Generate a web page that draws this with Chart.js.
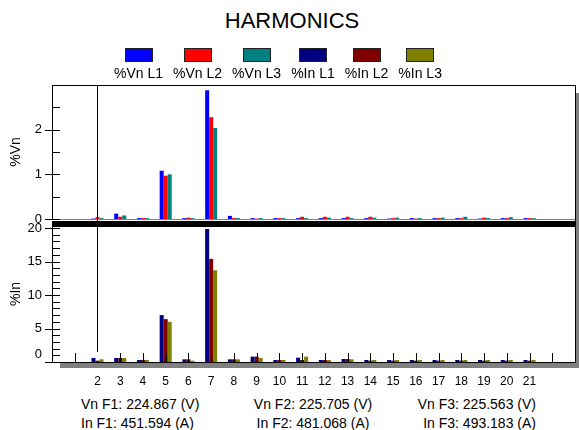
<!DOCTYPE html>
<html>
<head>
<meta charset="utf-8">
<title>Harmonics</title>
<script src="https://cdn.jsdelivr.net/npm/chart.js@4.4.1/dist/chart.umd.min.js"></script>
<style>
  body { margin: 0; background: #fff; font-family: "Liberation Sans", Arial, sans-serif; color: #000; }
  #page { position: relative; width: 579px; height: 430px; overflow: hidden; }
  #title { position: absolute; z-index: 5; left: 0; width: 584px; top: 10px; text-align: center; font-size: 22px; line-height: 22px; }
  #legend { position: absolute; z-index: 5; left: 114px; top: 48px; width: 400px; height: 34px; white-space: nowrap; }
  .box { position: absolute; top: 0; width: 26px; height: 12px; border: 1px solid #222; }
  .lbl { position: absolute; top: 18px; font-size: 14px; line-height: 14px; }
  canvas { position: absolute; left: 0; background: transparent; }
  #upper { top: 80px; z-index: 1; }
  #lower { top: 214px; z-index: 2; }
  #band { position: absolute; z-index: 3; left: 52px; top: 221px; width: 524px; height: 6px; background: #000; }
  .info { position: absolute; z-index: 5; font-size: 14px; line-height: 14px; white-space: nowrap; }
</style>
</head>
<body>
<div id="page">
  <div id="title">HARMONICS</div>
  <div id="legend"></div>
  <canvas id="upper" width="579" height="150"></canvas>
  <div id="band"></div>
  <canvas id="lower" width="579" height="178"></canvas>
  <div class="info" id="c1" style="left:81px; top:397px; text-align:left;"></div>
  <div class="info" id="c2" style="left:213px; width:200px; top:397px; text-align:center;"></div>
  <div class="info" id="c3" style="right:43px; top:397px; text-align:right;"></div>
</div>
<script>
// harmonic order on the x axis (0 and 1, 22 and 23 are empty slots)
const harmonics = ['0', '1', '2', '3', '4', '5', '6', '7', '8', '9', '10', '11',
                   '12', '13', '14', '15', '16', '17', '18', '19', '20', '21', '22', '23'];

// %Vn per phase
const vnL1 = [null, null, 0.01, 0.12, 0.02, 1.08, 0.02, 2.88, 0.07, 0.02, 0.02, 0.02,
              0.02, 0.02, 0.02, 0.01, 0.02, 0.02, 0.02, 0.01, 0.02, 0.02, null, null];
const vnL2 = [null, null, 0.04, 0.05, 0.02, 0.97, 0.03, 2.28, 0.02, 0.01, 0.02, 0.05,
              0.05, 0.05, 0.05, 0.02, 0.01, 0.02, 0.02, 0.03, 0.02, 0.02, null, null];
const vnL3 = [null, null, 0.02, 0.08, 0.02, 1.00, 0.02, 2.04, 0.02, 0.02, 0.02, 0.02,
              0.03, 0.02, 0.03, 0.03, 0.02, 0.03, 0.05, 0.02, 0.04, 0.02, null, null];

// %In per phase
const inL1 = [null, null, 0.6, 0.6, 0.3, 7.0, 0.4, 19.85, 0.4, 0.8, 0.3, 0.65,
              0.3, 0.45, 0.3, 0.3, 0.3, 0.3, 0.3, 0.3, 0.3, 0.3, null, null];
const inL2 = [null, null, 0.2, 0.6, 0.3, 6.4, 0.4, 15.4, 0.4, 0.8, 0.3, 0.3,
              0.3, 0.45, 0.2, 0.2, 0.2, 0.2, 0.2, 0.2, 0.2, 0.2, null, null];
const inL3 = [null, null, 0.4, 0.6, 0.3, 6.0, 0.2, 13.7, 0.4, 0.6, 0.3, 0.8,
              0.3, 0.4, 0.3, 0.3, 0.3, 0.3, 0.3, 0.3, 0.3, 0.3, null, null];

const seriesNames = ['%Vn L1', '%Vn L2', '%Vn L3', '%In L1', '%In L2', '%In L3'];
const seriesColors = ['#0000ff', '#ff0000', '#008080', '#000080', '#800000', '#808000'];

// fundamentals shown under the chart
const vnFund = [224.867, 225.705, 225.563];
const inFund = [451.594, 481.068, 493.183];

const cursorAt = 2;   // harmonic where the cursor line sits

Chart.defaults.font.family = '"Liberation Sans", Arial, sans-serif';
Chart.defaults.color = '#000';

/* legend: box centred above each label, labels 10px apart */
const legend = document.getElementById('legend');
let lx = 0;
seriesNames.forEach(function(name, i) {
    const lbl = document.createElement('div');
    lbl.className = 'lbl';
    lbl.textContent = name;
    legend.appendChild(lbl);
    const w = lbl.getBoundingClientRect().width;
    lbl.style.left = lx + 'px';
    const box = document.createElement('div');
    box.className = 'box';
    box.style.background = seriesColors[i];
    box.style.left = Math.round(lx + w / 2 - 14) + 'px';
    legend.appendChild(box);
    lx += w + 10;
});
['c1', 'c2', 'c3'].forEach(function(id, i) {
    document.getElementById(id).innerHTML =
        'Vn F' + (i + 1) + ': ' + vnFund[i].toFixed(3) + ' (V)<br><span style="display:inline-block;margin-top:5px">' +
        'In F' + (i + 1) + ': ' + inFund[i].toFixed(3) + ' (A)</span>';
});

function ds(label, data, color) {
    return {
        label: label, data: data, backgroundColor: color, borderWidth: 0,
        categoryPercentage: 0.53, barPercentage: 1
    };
}

function drawYTicks(chart, id, step) {
    const s = chart.scales[id];
    const ctx = chart.ctx;
    const x = chart.chartArea.left;
    ctx.save();
    ctx.strokeStyle = '#000';
    ctx.lineWidth = 1;
    ctx.beginPath();
    s.ticks.forEach(function(t) {
        const r = t.value / step;
        if (Math.abs(r - Math.round(r)) > 1e-6 || t.value >= s.max) return;
        const y = Math.round(s.getPixelForValue(t.value)) + 0.5;
        const major = Array.isArray(t.label) || t.label !== '';
        ctx.moveTo(major ? x - 7 : x, y);
        ctx.lineTo(x + 8, y);
    });
    ctx.stroke();
    ctx.restore();
}

const upperFrame = {
    id: 'upperFrame',
    afterDraw(chart) {
        const a = chart.chartArea, ctx = chart.ctx;
        ctx.save();
        ctx.fillStyle = '#808080';
        ctx.fillRect(a.right + 1, a.top + 8, 4, a.bottom + 3 - a.top - 8);
        ctx.strokeStyle = '#808080';
        ctx.lineWidth = 1;
        ctx.beginPath();
        ctx.moveTo(a.left, a.bottom + 0.5); ctx.lineTo(a.right, a.bottom + 0.5);
        ctx.stroke();
        ctx.strokeStyle = '#000';
        ctx.beginPath();
        ctx.moveTo(a.left, a.top + 0.5); ctx.lineTo(a.right + 0.5, a.top + 0.5);
        ctx.lineTo(a.right + 0.5, a.bottom + 3);
        const cx = Math.round(chart.scales.x.getPixelForValue(cursorAt)) + 0.5;
        ctx.moveTo(cx, a.top); ctx.lineTo(cx, a.bottom + 3);
        ctx.stroke();
        ctx.restore();
        drawYTicks(chart, 'y', 0.5);
    }
};

const lowerFrame = {
    id: 'lowerFrame',
    afterDraw(chart) {
        const a = chart.chartArea, ctx = chart.ctx, xs = chart.scales.x;
        ctx.save();
        ctx.fillStyle = '#808080';
        ctx.fillRect(a.right + 1, a.top - 4, 4, a.bottom + 6 - (a.top - 4));
        ctx.fillRect(a.left + 8, a.bottom + 1, a.right + 5 - (a.left + 8), 5);
        ctx.strokeStyle = '#000';
        ctx.lineWidth = 1;
        ctx.beginPath();
        ctx.moveTo(a.right + 0.5, a.top - 4); ctx.lineTo(a.right + 0.5, a.bottom);
        const cx = Math.round(xs.getPixelForValue(cursorAt)) + 0.5;
        ctx.moveTo(cx, a.top - 4); ctx.lineTo(cx, a.bottom - 10);
        for (let i = 1; i < harmonics.length - 1; i++) {
            if (i === cursorAt) continue;
            const px = Math.round(xs.getPixelForValue(i)) + 0.5;
            ctx.moveTo(px, a.bottom - 9); ctx.lineTo(px, a.bottom);
        }
        ctx.stroke();
        ctx.restore();
        drawYTicks(chart, 'y', 1);
    }
};

function yAxis(max, step, title, labelCb) {
    return {
        min: 0, max: max,
        afterFit: function(s) { s.width = 52; s.paddingTop = 0; s.paddingBottom = 0; },
        border: { color: '#000' },
        grid: { display: false, drawTicks: false },
        ticks: { stepSize: step, includeBounds: false, autoSkip: false, padding: 10, font: { size: 13 }, callback: labelCb },
        title: { display: true, text: title, font: { size: 14 }, padding: { top: 8, bottom: 0 } }
    };
}

new Chart(document.getElementById('upper'), {
    type: 'bar',
    data: {
        labels: harmonics,
        datasets: [ds(seriesNames[0], vnL1, seriesColors[0]),
                   ds(seriesNames[1], vnL2, seriesColors[1]),
                   ds(seriesNames[2], vnL3, seriesColors[2])]
    },
    options: {
        responsive: false,
        animation: false,
        layout: { padding: { top: 5, right: 4, bottom: 11, left: 0 } },
        plugins: { legend: { display: false }, tooltip: { enabled: false } },
        scales: {
            x: { display: false, offset: false },
            y: yAxis(3, 0.5, '%Vn', function(v) { return (Number.isInteger(v) && v < 3) ? String(v) : ''; })
        }
    },
    plugins: [upperFrame]
});

new Chart(document.getElementById('lower'), {
    type: 'bar',
    data: {
        labels: harmonics,
        datasets: [ds(seriesNames[3], inL1, seriesColors[3]),
                   ds(seriesNames[4], inL2, seriesColors[4]),
                   ds(seriesNames[5], inL3, seriesColors[5])]
    },
    options: {
        responsive: false,
        animation: false,
        layout: { padding: { top: 12, right: 4, bottom: 0, left: 0 } },
        plugins: { legend: { display: false }, tooltip: { enabled: false } },
        scales: {
            x: {
                offset: false,
                afterFit: function(s) { s.height = 30; s.paddingLeft = 0; s.paddingRight = 0; },
                border: { color: '#000' },
                grid: { display: false, drawTicks: false },
                ticks: {
                    autoSkip: false, maxRotation: 0, padding: 12, font: { size: 12 },
                    callback: function(v) {
                        const n = Number(this.getLabelForValue(v));
                        return (n >= 2 && n <= 21) ? String(n) : '';
                    }
                }
            },
            y: yAxis(20.3, 1, '%In', function(v) {
                if (v === 0) return ['0', ''];
                return (Number.isInteger(v) && v % 5 === 0) ? String(v) : '';
            })
        }
    },
    plugins: [lowerFrame]
});
</script>
</body>
</html>
